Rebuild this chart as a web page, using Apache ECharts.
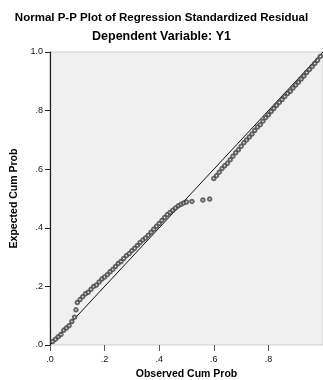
<!DOCTYPE html>
<html>
<head>
<meta charset="utf-8">
<script src="https://cdn.jsdelivr.net/npm/echarts@6/dist/echarts.min.js"></script>
<style>
html,body{margin:0;padding:0;background:#fff;}
#chart{width:323px;height:380px;}
</style>
</head>
<body>
<div id="chart"></div>
<script>
var titleText = 'Normal P-P Plot of Regression Standardized Residual';
var subtitleText = 'Dependent Variable: Y1';
var xAxisName = 'Observed Cum Prob';
var yAxisName = 'Expected Cum Prob';
var tickValues = [0, 0.2, 0.4, 0.6, 0.8, 1.0];
var tickLabels = ['.0', '.2', '.4', '.6', '.8', '1.0'];

var observed = [0.01,0.02,0.03,0.04,0.05,0.06,0.07,0.08,0.09,0.095,0.10,
  0.11,0.12,0.13,0.14,0.15,0.16,0.17,0.18,0.19,0.20,0.21,0.22,0.23,0.24,0.25,
  0.26,0.27,0.28,0.29,0.30,0.31,0.32,0.33,0.34,0.35,0.36,0.37,0.38,0.39,0.40,
  0.41,0.42,0.43,0.44,0.45,0.46,0.47,0.48,0.49,0.50,0.52,0.56,0.585,
  0.60,0.61,0.62,0.63,0.64,0.65,0.66,0.67,0.68,0.69,0.70,0.71,0.72,0.73,0.74,
  0.75,0.76,0.77,0.78,0.79,0.80,0.81,0.82,0.83,0.84,0.85,0.86,0.87,0.88,0.89,
  0.90,0.91,0.92,0.93,0.94,0.95,0.96,0.97,0.98,0.99];
var expected = [0.012,0.02,0.028,0.036,0.05,0.058,0.066,0.08,0.095,0.12,0.145,
  0.155,0.165,0.175,0.18,0.19,0.20,0.205,0.215,0.225,0.232,0.24,0.25,0.258,0.268,0.278,
  0.285,0.295,0.305,0.312,0.322,0.33,0.34,0.35,0.358,0.365,0.375,0.385,0.395,0.405,0.415,
  0.425,0.435,0.445,0.452,0.46,0.468,0.475,0.48,0.485,0.488,0.49,0.495,0.498,
  0.568,0.578,0.59,0.602,0.612,0.62,0.632,0.644,0.656,0.666,0.678,0.69,0.70,0.71,0.72,
  0.732,0.744,0.752,0.764,0.776,0.786,0.797,0.807,0.818,0.828,0.838,0.848,0.858,0.866,0.877,
  0.887,0.897,0.908,0.918,0.93,0.94,0.95,0.961,0.972,0.985];
var refLine = [[0, 0], [1, 1]];

var points = observed.map(function (o, i) { return [o, expected[i]]; });
function fmt(v) {
  var idx = tickValues.findIndex(function (t) { return Math.abs(t - v) < 1e-6; });
  return idx >= 0 ? tickLabels[idx] : '';
}

var chart = echarts.init(document.getElementById('chart'), null, {renderer: 'canvas'});
chart.setOption({
  animation: false,
  backgroundColor: '#ffffff',
  title: [
    {text: titleText, left: 'center', top: 7,
     textStyle: {fontFamily: 'Liberation Sans', fontSize: 11.5, fontWeight: 'bold', color: '#000'}},
    {text: subtitleText, left: 'center', top: 25,
     textStyle: {fontFamily: 'Liberation Sans', fontSize: 12.5, fontWeight: 'bold', color: '#000'}}
  ],
  grid: {left: 50, top: 52, width: 273, height: 293, show: true,
         outerBoundsMode: 'none', containLabel: false,
         backgroundColor: '#f0f0f0', borderColor: '#cfcfcf', borderWidth: 1},
  xAxis: {
    type: 'value', min: 0, max: 1, interval: 0.2,
    name: xAxisName, nameLocation: 'middle', nameGap: 24,
    nameTextStyle: {fontFamily: 'Liberation Sans', fontSize: 10.5, fontWeight: 'bold', color: '#000'},
    axisLine: {show: false},
    axisTick: {show: true, length: 6, lineStyle: {color: '#555'}},
    axisLabel: {formatter: fmt, showMaxLabel: false, margin: 10,
      fontFamily: 'Liberation Sans', fontSize: 9, color: '#111'},
    splitLine: {show: false}
  },
  yAxis: {
    type: 'value', min: 0, max: 1, interval: 0.2,
    name: yAxisName, nameLocation: 'middle', nameGap: 30, nameRotate: 90,
    nameTextStyle: {fontFamily: 'Liberation Sans', fontSize: 10.5, fontWeight: 'bold', color: '#000'},
    axisLine: {show: true, lineStyle: {color: '#222', width: 1.2}},
    axisTick: {show: true, length: 5, lineStyle: {color: '#222'}},
    axisLabel: {formatter: fmt, margin: 7,
      fontFamily: 'Liberation Sans', fontSize: 9, color: '#111'},
    splitLine: {show: false}
  },
  series: [
    {type: 'line', data: refLine, symbol: 'none', silent: true,
     lineStyle: {color: '#111', width: 1}, z: 2},
    {type: 'scatter', data: points, symbol: 'emptyCircle', symbolSize: 3.5,
     itemStyle: {color: '#444', borderColor: '#444', borderWidth: 0.7}, z: 3}
  ]
});
</script>
</body>
</html>
